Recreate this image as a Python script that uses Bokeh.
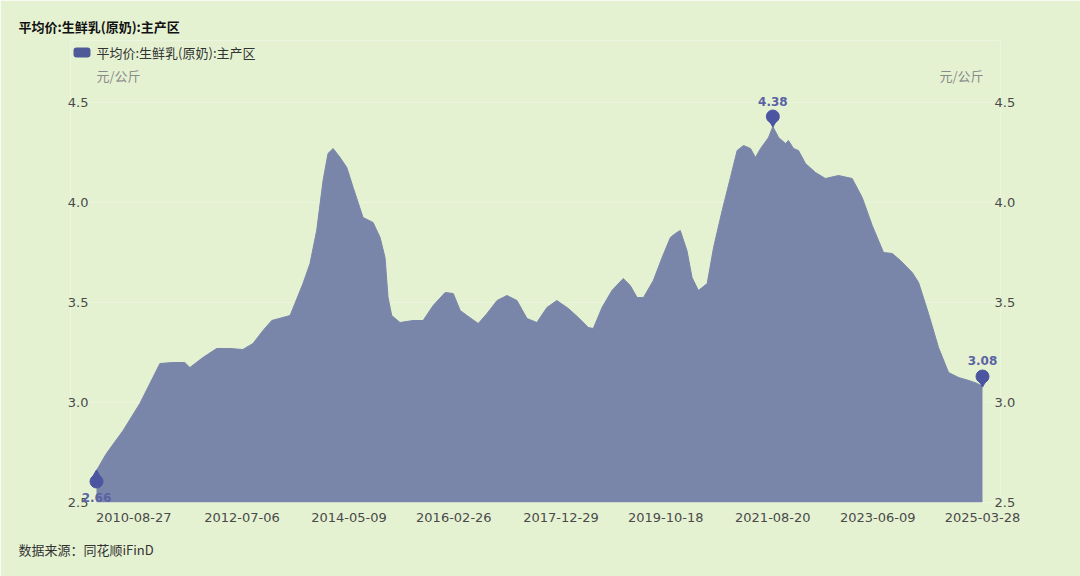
from datetime import datetime
from bokeh.plotting import figure
from bokeh.models import (Range1d, FixedTicker, DatetimeTickFormatter, LinearAxis, Label,
                          BoxAnnotation, PrintfTickFormatter, ColumnDataSource)
from bokeh.embed import file_html
from bokeh.resources import INLINE

# ---------------- data ----------------
title_text = "平均价:生鲜乳(原奶):主产区"
series_name = "平均价:生鲜乳(原奶):主产区"
unit_text = "元/公斤"
source_text = "数据来源：同花顺iFinD"

dates = [
    "2010-01-05", "2010-03-08", "2010-06-21", "2010-10-04", "2010-12-06",
    "2011-02-07", "2011-04-29", "2011-07-13", "2011-08-14", "2011-11-04",
    "2012-01-29", "2012-04-22", "2012-07-12", "2012-09-13", "2012-11-15",
    "2013-01-09", "2013-05-04", "2013-07-24", "2013-09-06", "2013-10-18",
    "2013-11-27", "2013-12-28", "2014-01-29", "2014-03-14", "2014-04-25",
    "2014-06-04", "2014-08-05", "2014-10-07", "2014-11-20", "2014-12-21",
    "2015-01-09", "2015-02-01", "2015-03-25", "2015-06-15", "2015-08-17",
    "2015-10-19", "2016-01-02", "2016-02-22", "2016-04-06", "2016-05-18",
    "2016-07-28", "2016-09-21", "2016-11-23", "2017-01-24", "2017-03-28",
    "2017-05-30", "2017-07-31", "2017-10-02", "2017-12-03", "2018-02-14",
    "2018-04-17", "2018-06-19", "2018-07-20", "2018-09-13", "2018-11-14",
    "2019-01-24", "2019-03-09", "2019-04-21", "2019-05-31", "2019-08-01",
    "2019-09-25", "2019-11-16", "2019-12-17", "2020-01-17", "2020-02-28",
    "2020-03-31", "2020-05-10", "2020-07-04", "2020-08-13", "2020-10-06",
    "2020-11-27", "2021-01-08", "2021-02-17", "2021-04-02", "2021-05-03",
    "2021-06-04", "2021-07-24", "2021-08-20", "2021-09-25", "2021-11-07",
    "2021-11-26", "2021-12-28", "2022-01-28", "2022-03-13", "2022-05-15",
    "2022-07-16", "2022-10-06", "2022-12-31", "2023-03-04", "2023-05-06",
    "2023-07-16", "2023-09-09", "2023-10-30", "2024-01-12", "2024-02-21",
    "2024-04-23", "2024-06-25", "2024-08-27", "2024-10-29", "2025-01-01",
    "2025-02-24", "2025-03-28",
]
values = [
    2.66, 2.745, 2.86, 2.995, 3.095,
    3.195, 3.20, 3.20, 3.175, 3.225,
    3.27, 3.27, 3.265, 3.295, 3.36,
    3.41, 3.435, 3.595, 3.695, 3.86,
    4.11, 4.245, 4.27, 4.225, 4.175,
    4.075, 3.925, 3.90, 3.825, 3.725,
    3.525, 3.435, 3.40, 3.41, 3.41,
    3.485, 3.55, 3.545, 3.46, 3.435,
    3.395, 3.445, 3.51, 3.535, 3.51,
    3.42, 3.40, 3.475, 3.51, 3.47,
    3.425, 3.375, 3.37, 3.475, 3.56,
    3.62, 3.585, 3.525, 3.525, 3.61,
    3.725, 3.825, 3.845, 3.86, 3.76,
    3.625, 3.56, 3.595, 3.775, 3.96,
    4.125, 4.26, 4.285, 4.27, 4.225,
    4.27, 4.325, 4.38, 4.325, 4.295,
    4.31, 4.27, 4.26, 4.195, 4.15,
    4.12, 4.135, 4.12, 4.025, 3.885,
    3.75, 3.745, 3.71, 3.65, 3.60,
    3.445, 3.275, 3.15, 3.125, 3.11,
    3.095, 3.08,
]
x_tick_labels = ["2010-08-27", "2012-07-06", "2014-05-09", "2016-02-26", "2017-12-29",
                 "2019-10-18", "2021-08-20", "2023-06-09", "2025-03-28"]
y_ticks = [2.5, 3.0, 3.5, 4.0, 4.5]

# ---------------- styling / layout ----------------
BG = "#E5F2D2"
AREA = "#7A86A9"
PIN = "#4C56A0"
MARK_TXT = "#5A63A4"
AXIS_TXT = "#4A4A4A"
CJK = "Noto Sans CJK SC"
NUM = "DejaVu Sans"

W, H = 1080, 576
F_LEFT, F_RIGHT, F_TOP, F_BOTTOM = 70, 1000, 40, 502     # frame box in page pixels
D_LEFT, D_RIGHT = 96, 982                                 # where first / last data point sit
PX_PER_UNIT = 200.0

EPOCH = datetime(1970, 1, 1)


def ms(d):
    return (d - EPOCH).total_seconds() * 1000.0


dt = [datetime.strptime(d, "%Y-%m-%d") for d in dates]
xs = [ms(d) for d in dt]
tick_ms = [ms(datetime.strptime(d, "%Y-%m-%d")) for d in x_tick_labels]

ms_per_px = (xs[-1] - xs[0]) / (D_RIGHT - D_LEFT)
x_start = xs[0] - (D_LEFT - F_LEFT) * ms_per_px
x_end = xs[-1] + (F_RIGHT - D_RIGHT) * ms_per_px
y_start = y_ticks[0]
y_end = y_ticks[-1] + (102 - F_TOP) / PX_PER_UNIT


def px_x(px):
    return x_start + (px - F_LEFT) * ms_per_px


def px_y(py):
    return y_start + (F_BOTTOM - py) / PX_PER_UNIT


p = figure(width=W, height=H, x_axis_type="datetime",
           output_backend="svg", toolbar_location=None,
           x_range=Range1d(x_start, x_end), y_range=Range1d(y_start, y_end),
           min_border_left=F_LEFT, min_border_right=W - F_RIGHT,
           min_border_top=F_TOP, min_border_bottom=H - F_BOTTOM,
           background_fill_color=BG, border_fill_color=BG, outline_line_color=None)

# grid
p.xgrid.visible = False
p.ygrid.grid_line_color = "#EBF5DE"
p.ygrid.grid_line_width = 1

# bottom axis
xa = p.xaxis[0]
xa.ticker = FixedTicker(ticks=tick_ms)
fmt = "%Y-%m-%d"
xa.formatter = DatetimeTickFormatter(microseconds=fmt, milliseconds=fmt, seconds=fmt, minsec=fmt,
                                     minutes=fmt, hourmin=fmt, hours=fmt, days=fmt, months=fmt, years=fmt)
xa.axis_line_color = None
xa.major_tick_line_color = None
xa.minor_tick_line_color = None
xa.major_label_standoff = 4
xa.major_label_text_font = NUM
xa.major_label_text_font_size = "13px"
xa.major_label_text_color = AXIS_TXT

# left axis (labels end just left of first data point column)
ya = p.yaxis[0]
ya.ticker = FixedTicker(ticks=y_ticks)
ya.formatter = PrintfTickFormatter(format="%.1f")
ya.axis_line_color = None
ya.major_tick_line_color = None
ya.minor_tick_line_color = None
ya.major_label_standoff = -24
ya.major_label_text_font = NUM
ya.major_label_text_font_size = "13px"
ya.major_label_text_color = AXIS_TXT

# right axis
ra = LinearAxis(ticker=FixedTicker(ticks=y_ticks), formatter=PrintfTickFormatter(format="%.1f"),
                axis_line_color=None, major_tick_line_color=None, minor_tick_line_color=None,
                major_label_standoff=-12, major_label_text_font=NUM,
                major_label_text_font_size="13px", major_label_text_color=AXIS_TXT)
p.add_layout(ra, "right")

# area
src = ColumnDataSource(dict(x=xs, y=values))
p.varea(x="x", y1=y_ticks[0], y2="y", source=src, fill_color=AREA)
p.line(x="x", y="y", source=src, line_color=AREA, line_width=1)

# mark points: max and last (pins pointing down), min (pin pointing up)
imax = max(range(len(values)), key=lambda i: values[i])
imin = min(range(len(values)), key=lambda i: values[i])
ilast = len(values) - 1
down = [imax, ilast]
p.scatter([xs[i] for i in down], [values[i] + 0.05 for i in down], marker="circle",
          size=13, fill_color=PIN, line_color=PIN)
p.scatter([xs[i] for i in down], [values[i] + 0.02 for i in down], marker="inverted_triangle",
          size=8, fill_color=PIN, line_color=PIN)
p.scatter([xs[imin]], [values[imin] - 0.055], marker="circle", size=13, fill_color=PIN, line_color=PIN)
p.scatter([xs[imin]], [values[imin] - 0.02], marker="triangle", size=8, fill_color=PIN, line_color=PIN)

for i, off in [(imax, 25), (ilast, 26), (imin, -27)]:
    p.add_layout(Label(x=xs[i], y=values[i], text=f"{values[i]:.2f}", text_align="center",
                       text_baseline="middle", y_offset=off, text_font=NUM,
                       text_font_size="12px", text_font_style="bold", text_color=MARK_TXT))

# legend (inside the frame)
p.add_layout(BoxAnnotation(left=px_x(73), right=px_x(90), bottom=px_y(57), top=px_y(47),
                           fill_color="#4E5A98", fill_alpha=1.0, line_color=None, border_radius=3))
p.add_layout(Label(x=px_x(96), y=px_y(52), text=series_name,
                   text_font=CJK, text_font_size="13px", text_color="#333333",
                   text_baseline="middle"))
# units
p.add_layout(Label(x=px_x(96), y=px_y(75), text=unit_text,
                   text_font=CJK, text_font_size="13px", text_color="#8A8A8A",
                   text_baseline="middle"))
p.add_layout(Label(x=px_x(983), y=px_y(75), text=unit_text,
                   text_font=CJK, text_font_size="13px", text_color="#8A8A8A",
                   text_baseline="middle", text_align="right"))

# title and source sit in the side panels (not clipped by the frame)
p.add_layout(Label(x=px_x(18), y=px_y(26), text=title_text,
                   text_font=CJK, text_font_size="13px", text_font_style="bold",
                   text_color="#111111", text_baseline="middle"), "above")
p.add_layout(Label(x=px_x(18), y=px_y(549), text=source_text,
                   text_font=CJK, text_font_size="13px", text_color="#333333",
                   text_baseline="middle"), "below")

open("out.html", "w").write(file_html(p, INLINE))
